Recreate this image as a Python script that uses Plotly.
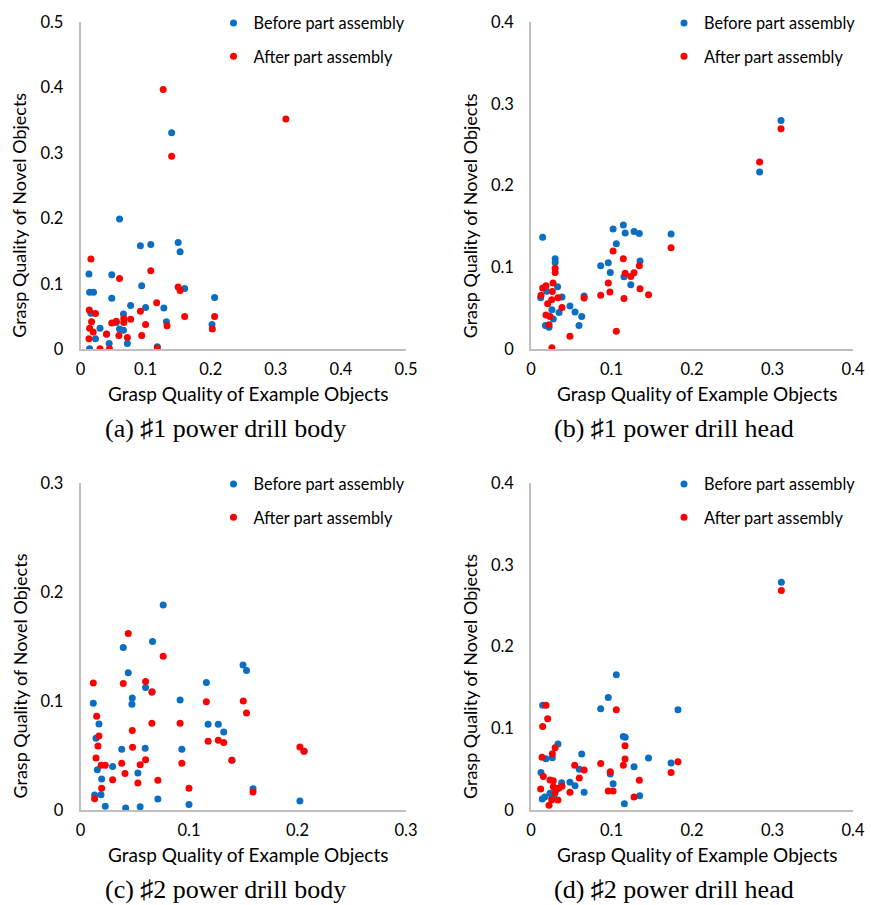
import plotly.graph_objects as go

# ---------------- data ----------------
# (a) #1 power drill body
a_before_x = [0.140,0.060,0.092,0.108,0.150,0.153,0.013,0.048,0.014,0.020,0.094,0.160,0.206,0.048,0.077,0.100,0.128,0.066,0.016,0.132,0.202,0.030,0.060,0.066,0.055,0.023,0.040,0.044,0.072,0.014,0.118]
a_before_y = [0.331,0.199,0.158,0.160,0.163,0.149,0.115,0.114,0.087,0.087,0.097,0.093,0.079,0.078,0.067,0.064,0.063,0.054,0.055,0.042,0.038,0.032,0.031,0.029,0.041,0.016,0.023,0.009,0.009,0.001,0.004]
a_after_x = [0.127,0.3155,0.140,0.016,0.060,0.108,0.150,0.153,0.117,0.0135,0.023,0.092,0.017,0.048,0.055,0.0665,0.0665,0.077,0.100,0.160,0.206,0.133,0.2025,0.014,0.0195,0.040,0.059,0.072,0.094,0.013,0.030,0.0445,0.118]
a_after_y = [0.397,0.352,0.295,0.138,0.108,0.120,0.095,0.090,0.071,0.060,0.0545,0.058,0.042,0.040,0.043,0.041,0.047,0.046,0.038,0.050,0.050,0.036,0.031,0.032,0.0265,0.0235,0.021,0.018,0.021,0.016,0.001,0.001,0.002]

# (b) #1 power drill head
b_before_x = [0.0145,0.102,0.1147,0.117,0.128,0.1346,0.174,0.106,0.030,0.030,0.096,0.0866,0.1354,0.0985,0.1155,0.124,0.033,0.0195,0.012,0.0385,0.066,0.026,0.0348,0.0484,0.0547,0.063,0.0277,0.018,0.0224,0.0596,0.3106,0.284]
b_before_y = [0.137,0.147,0.152,0.142,0.144,0.1415,0.141,0.129,0.1106,0.106,0.1057,0.102,0.108,0.094,0.0886,0.079,0.0765,0.071,0.063,0.064,0.065,0.0484,0.045,0.053,0.0455,0.040,0.037,0.029,0.027,0.029,0.2797,0.2167]
b_after_x = [0.174,0.102,0.1147,0.030,0.030,0.1346,0.117,0.128,0.124,0.096,0.0273,0.0186,0.0145,0.0265,0.098,0.1354,0.146,0.0866,0.1155,0.0124,0.066,0.0335,0.0257,0.0207,0.0385,0.0186,0.0236,0.0224,0.0484,0.106,0.026,0.3106,0.284]
b_after_y = [0.124,0.120,0.1106,0.099,0.094,0.102,0.093,0.0935,0.089,0.081,0.081,0.0777,0.075,0.0707,0.070,0.074,0.0667,0.066,0.062,0.066,0.0626,0.063,0.0606,0.0557,0.051,0.042,0.040,0.030,0.016,0.022,0.002,0.2695,0.229]

# (c) #2 power drill body
c_before_x = [0.0762,0.0664,0.0394,0.044,0.060,0.0658,0.0477,0.0474,0.0118,0.0918,0.116,0.1498,0.153,0.017,0.0143,0.1176,0.127,0.132,0.038,0.0596,0.0934,0.0296,0.0155,0.0529,0.0195,0.013,0.0189,0.0228,0.0416,0.055,0.0713,0.100,0.1397,0.159,0.2022,0.206]
c_before_y = [0.188,0.1545,0.149,0.126,0.1125,0.108,0.1027,0.097,0.098,0.101,0.117,0.133,0.128,0.079,0.0658,0.0786,0.0786,0.0716,0.0557,0.0566,0.0557,0.040,0.037,0.034,0.0284,0.0138,0.014,0.0034,0.0018,0.003,0.010,0.005,0.0456,0.0196,0.0083,0.054]
c_after_x = [0.044,0.0762,0.0118,0.0394,0.060,0.066,0.0149,0.116,0.150,0.153,0.017,0.0161,0.0658,0.0918,0.0477,0.048,0.1176,0.127,0.132,0.0143,0.038,0.060,0.055,0.019,0.0228,0.0934,0.1394,0.041,0.0296,0.0529,0.0713,0.0195,0.100,0.013,0.2022,0.206,0.159]
c_after_y = [0.162,0.141,0.1165,0.116,0.118,0.1085,0.086,0.0994,0.100,0.089,0.068,0.0587,0.0795,0.0795,0.073,0.0575,0.063,0.064,0.062,0.0477,0.043,0.046,0.0416,0.041,0.041,0.043,0.0456,0.0336,0.0278,0.0248,0.0272,0.020,0.020,0.0104,0.0578,0.054,0.0165]

# (d) #2 power drill head
d_before_x = [0.106,0.096,0.0866,0.1826,0.0145,0.1147,0.117,0.0335,0.0265,0.0186,0.063,0.146,0.174,0.128,0.060,0.0124,0.0985,0.102,0.0484,0.0547,0.038,0.066,0.135,0.116,0.014,0.017,0.0236,0.029,0.032,0.026,0.311]
d_before_y = [0.1654,0.1377,0.124,0.1226,0.128,0.090,0.089,0.0807,0.064,0.0627,0.0685,0.0636,0.0575,0.053,0.050,0.046,0.044,0.032,0.034,0.0297,0.0334,0.0216,0.0175,0.0077,0.0134,0.016,0.0204,0.0196,0.0253,0.015,0.2787]
d_after_x = [0.0186,0.0207,0.0145,0.106,0.1168,0.030,0.0265,0.0137,0.1168,0.1147,0.0866,0.0543,0.066,0.0985,0.1826,0.174,0.0153,0.060,0.1346,0.0236,0.0277,0.0385,0.0348,0.0277,0.012,0.0484,0.096,0.102,0.0298,0.128,0.0257,0.0335,0.0224,0.311]
d_after_y = [0.128,0.1117,0.102,0.1226,0.0786,0.076,0.0688,0.0644,0.0623,0.0546,0.057,0.0546,0.049,0.0468,0.059,0.046,0.041,0.039,0.0363,0.0367,0.0358,0.029,0.0269,0.0285,0.0257,0.0216,0.0232,0.0232,0.021,0.016,0.0126,0.0122,0.0057,0.2686]

series_names = ["Before part assembly", "After part assembly"]
captions = ["(a) \u266f1 power drill body", "(b) \u266f1 power drill head",
            "(c) \u266f2 power drill body", "(d) \u266f2 power drill head"]
axis_max = [0.5, 0.4, 0.3, 0.4]
x_title = "Grasp Quality of Example Objects"
y_title = "Grasp Quality of Novel Objects"

panels = [
    (a_before_x, a_before_y, a_after_x, a_after_y),
    (b_before_x, b_before_y, b_after_x, b_after_y),
    (c_before_x, c_before_y, c_after_x, c_after_y),
    (d_before_x, d_before_y, d_after_x, d_after_y),
]

# ---------------- layout geometry (pixels) ----------------
W, H = 871, 905
BLUE, RED = "#0A6FC2", "#FF0000"
FONT = "Lato"
# plot boxes: left, right, top, bottom (px)
boxes = [(80.5, 406, 22, 349.3), (531, 853, 22, 349.3),
         (80.5, 406, 483, 810), (531, 853, 483, 810)]

fig = go.Figure()
layout = dict(width=W, height=H, margin=dict(l=0, r=0, t=0, b=0, autoexpand=False),
              paper_bgcolor="white", plot_bgcolor="white", showlegend=True)

annotations = []
for i, ((bx, by, ax_, ay), (l, r, t, b), mx, cap) in enumerate(zip(panels, boxes, axis_max, captions)):
    k = "" if i == 0 else str(i + 1)
    leg = "legend" + k
    fig.add_trace(go.Scatter(x=bx, y=by, mode="markers", name=series_names[0],
                             marker=dict(color=BLUE, size=7), xaxis="x" + k, yaxis="y" + k,
                             legend=leg, legendgroup="b" + k))
    fig.add_trace(go.Scatter(x=ax_, y=ay, mode="markers", name=series_names[1],
                             marker=dict(color=RED, size=7), xaxis="x" + k, yaxis="y" + k,
                             legend=leg, legendgroup="a" + k))
    common = dict(range=[0, mx], dtick=0.1, tick0=0, showgrid=False, zeroline=False,
                  showline=True, linecolor="#BFBFBF", linewidth=1.5,
                  ticks="outside", tickcolor="rgba(0,0,0,0)",
                  tickfont=dict(family=FONT, size=16.5, color="#000"), fixedrange=True)
    layout["xaxis" + k] = dict(common, domain=[l / W, r / W], anchor="y" + k, ticklen=4)
    layout["yaxis" + k] = dict(common, domain=[1 - b / H, 1 - t / H], anchor="x" + k, ticklen=12)
    layout[leg] = dict(x=(l + 133) / W, y=1 - (t - 16) / H, xanchor="left", yanchor="top",
                       font=dict(family=FONT, size=16.3, color="#000"), bgcolor="rgba(0,0,0,0)",
                       traceorder="grouped", tracegroupgap=9, itemclick=False)
    cx = (l + r) / 2
    annotations.append(dict(text=x_title, x=(cx + 5) / W, y=1 - (b + 44) / H, xref="paper", yref="paper",
                            showarrow=False, xanchor="center", yanchor="middle",
                            font=dict(family=FONT, size=19, color="#000")))
    annotations.append(dict(text=y_title, x=(l - 61) / W, y=1 - (b - 134) / H, xref="paper", yref="paper",
                            showarrow=False, xanchor="center", yanchor="middle", textangle=-90,
                            font=dict(family=FONT, size=18, color="#000")))
    annotations.append(dict(text=cap, x=(cx - 18) / W, y=1 - (b + 79) / H, xref="paper", yref="paper",
                            showarrow=False, xanchor="center", yanchor="middle",
                            font=dict(family="Liberation Serif", size=26, color="#000")))

layout["annotations"] = annotations
fig.update_layout(**layout)
fig.write_html("out.html")
